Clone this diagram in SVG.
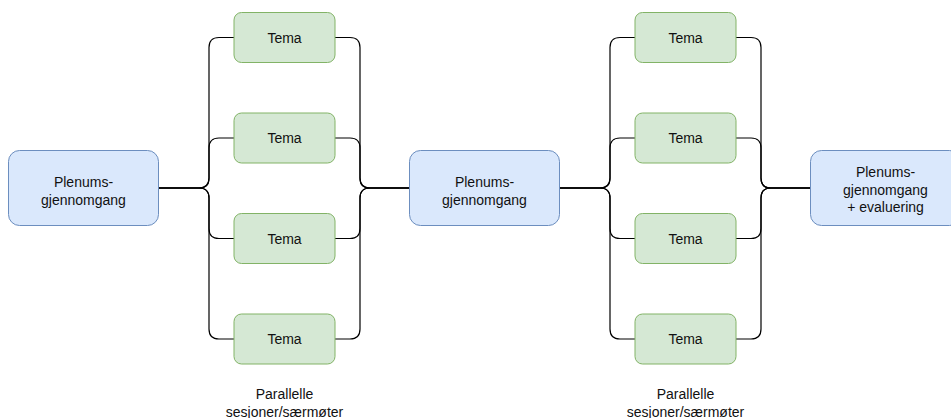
<svg xmlns="http://www.w3.org/2000/svg" width="951" height="418" viewBox="0 0 951 418">
<style>
.plen{fill:#dae8fc;stroke:#6c8ebf;stroke-width:1}
.tema{fill:#d5e8d4;stroke:#82b366;stroke-width:1}
.edge{fill:none;stroke:#000;stroke-width:1.2}
text{font-family:"Liberation Sans",Arial,Helvetica,sans-serif;font-size:14px;fill:#111;text-anchor:middle}
</style>
<rect width="951" height="418" fill="#fff"/>
<g id="connectors">
<path class="edge" d="M158.5,188 H199 Q209,188 209,178 V47.5 Q209,37.5 219,37.5 H234"/>
<path class="edge" d="M158.5,188 H199 Q209,188 209,178 V148 Q209,138 219,138 H234"/>
<path class="edge" d="M158.5,188 H199 Q209,188 209,198 V228.5 Q209,238.5 219,238.5 H234"/>
<path class="edge" d="M158.5,188 H199 Q209,188 209,198 V329 Q209,339 219,339 H234"/>
<path class="edge" d="M335,37.5 H350 Q360,37.5 360,47.5 V178 Q360,188 370,188 H409.5"/>
<path class="edge" d="M335,138 H350 Q360,138 360,148 V178 Q360,188 370,188 H409.5"/>
<path class="edge" d="M335,238.5 H350 Q360,238.5 360,228.5 V198 Q360,188 370,188 H409.5"/>
<path class="edge" d="M335,339 H350 Q360,339 360,329 V198 Q360,188 370,188 H409.5"/>
<path class="edge" d="M559.5,188 H600 Q610,188 610,178 V47.5 Q610,37.5 620,37.5 H635"/>
<path class="edge" d="M559.5,188 H600 Q610,188 610,178 V148 Q610,138 620,138 H635"/>
<path class="edge" d="M559.5,188 H600 Q610,188 610,198 V228.5 Q610,238.5 620,238.5 H635"/>
<path class="edge" d="M559.5,188 H600 Q610,188 610,198 V329 Q610,339 620,339 H635"/>
<path class="edge" d="M736,37.5 H751 Q761,37.5 761,47.5 V178 Q761,188 771,188 H810.5"/>
<path class="edge" d="M736,138 H751 Q761,138 761,148 V178 Q761,188 771,188 H810.5"/>
<path class="edge" d="M736,238.5 H751 Q761,238.5 761,228.5 V198 Q761,188 771,188 H810.5"/>
<path class="edge" d="M736,339 H751 Q761,339 761,329 V198 Q761,188 771,188 H810.5"/>
</g>
<g id="plenum1"><rect class="plen" x="8.5" y="150.5" width="150" height="75" rx="11" ry="11"/><text x="83.5" y="187">Plenums-</text><text x="83.5" y="205">gjennomgang</text></g>
<g id="plenum2"><rect class="plen" x="409.5" y="150.5" width="150" height="75" rx="11" ry="11"/><text x="484.5" y="187">Plenums-</text><text x="484.5" y="205">gjennomgang</text></g>
<g id="plenum3"><rect class="plen" x="810.5" y="150.5" width="150" height="75" rx="11" ry="11"/><text x="885.5" y="177">Plenums-</text><text x="885.5" y="194.5">gjennomgang</text><text x="885.5" y="212">+ evaluering</text></g>
<g id="tema1a"><rect class="tema" x="234" y="12.5" width="101" height="50" rx="7.5" ry="7.5"/><text x="284.5" y="42.5">Tema</text></g>
<g id="tema1b"><rect class="tema" x="234" y="113" width="101" height="50" rx="7.5" ry="7.5"/><text x="284.5" y="143">Tema</text></g>
<g id="tema1c"><rect class="tema" x="234" y="213.5" width="101" height="50" rx="7.5" ry="7.5"/><text x="284.5" y="243.5">Tema</text></g>
<g id="tema1d"><rect class="tema" x="234" y="314" width="101" height="50" rx="7.5" ry="7.5"/><text x="284.5" y="344">Tema</text></g>
<g id="tema2a"><rect class="tema" x="635" y="12.5" width="101" height="50" rx="7.5" ry="7.5"/><text x="685.5" y="42.5">Tema</text></g>
<g id="tema2b"><rect class="tema" x="635" y="113" width="101" height="50" rx="7.5" ry="7.5"/><text x="685.5" y="143">Tema</text></g>
<g id="tema2c"><rect class="tema" x="635" y="213.5" width="101" height="50" rx="7.5" ry="7.5"/><text x="685.5" y="243.5">Tema</text></g>
<g id="tema2d"><rect class="tema" x="635" y="314" width="101" height="50" rx="7.5" ry="7.5"/><text x="685.5" y="344">Tema</text></g>
<g id="label1"><text x="284.5" y="399">Parallelle</text><text x="284.5" y="416.5">sesjoner/særmøter</text></g>
<g id="label2"><text x="685.5" y="399">Parallelle</text><text x="685.5" y="416.5">sesjoner/særmøter</text></g>
</svg>
